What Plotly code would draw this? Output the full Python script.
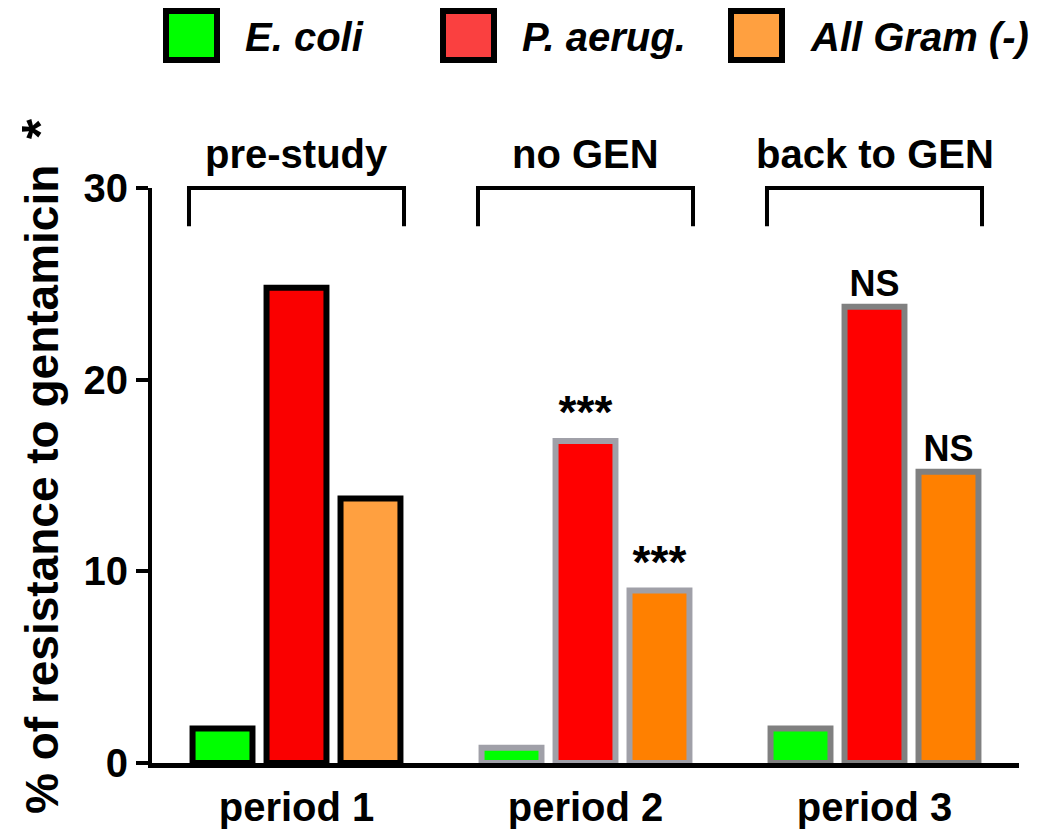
import plotly.graph_objects as go

# data
periods = ["period 1", "period 2", "period 3"]
phases = ["pre-study", "no GEN", "back to GEN"]
series = ["E. coli", "P. aerug.", "All Gram (-)"]

ecoli = [1.8, 0.8, 1.8]
paerug = [24.8, 16.8, 23.8]
all_gram = [13.8, 9.0, 15.2]

# significance labels vs period 1
sig_paerug = ["", "***", "NS"]
sig_all_gram = ["", "***", "NS"]

y_ticks = [0, 10, 20, 30]
y_title = ("% of resistance to gentamicin&nbsp;&nbsp;"
           "<span style='font-size:52px'>*</span>")

# styles
FONT = "Arial, Liberation Sans, Helvetica, sans-serif"
fills = {
    "E. coli": ["#00FF00", "#00FF00", "#00FF00"],
    "P. aerug.": ["#FA0000", "#FF0000", "#FF0000"],
    "All Gram (-)": ["#FFA040", "#FF8000", "#FF8000"],
}
legend_fill = {"E. coli": "#00FF00", "P. aerug.": "#FA4040", "All Gram (-)": "#FFA040"}
borders = ["#000000", "#A0A0A8", "#808080"]

values = {"E. coli": ecoli, "P. aerug.": paerug, "All Gram (-)": all_gram}
labels = {"E. coli": ["", "", ""], "P. aerug.": sig_paerug, "All Gram (-)": sig_all_gram}

# the html page adds an 8px body margin, so the figure is drawn 8px smaller
OFF = 8
W, H = 1048 - OFF, 834 - OFF
L, R, T, B = 152 - OFF, 29, 188 - OFF, 71
PW, PH = W - L - R, H - T - B


def px_x(p):
    return (p - OFF - L) / PW


def px_y(p):
    return (H - B - (p - OFF)) / PH


fig = go.Figure()
for name in series:
    fig.add_trace(go.Bar(
        x=periods,
        y=values[name],
        name=name,
        marker=dict(color=fills[name], line=dict(color=borders, width=6)),
        text=labels[name],
        textposition="outside",
        cliponaxis=False,
        constraintext="none",
        textfont=dict(family=FONT, weight="bold", color="black",
                      size=[46 if t == "***" else 36 for t in labels[name]]),
        showlegend=False,
    ))

shapes = []
annotations = []

# brackets over each period
bargap = 0.232
half = (1 - bargap) / 2 - 0.012
for i, ph in enumerate(phases):
    x0, x1 = i - half, i + half
    shapes.append(dict(type="path", xref="x", yref="paper",
                       path=f"M {x0},{28/30} L {x0},1 L {x1},1 L {x1},{28/30}",
                       line=dict(color="black", width=4)))
    annotations.append(dict(x=i, y=px_y(154), xref="x", yref="paper", text=ph,
                            showarrow=False, yanchor="middle",
                            font=dict(family=FONT, size=40, weight="bold", color="black")))

# legend drawn by hand (large boxes like the original)
box_left = [163, 440, 728]
for name, bx in zip(series, box_left):
    shapes.append(dict(type="rect", xref="paper", yref="paper",
                       x0=px_x(bx + 3), x1=px_x(bx + 54), y0=px_y(60), y1=px_y(11),
                       fillcolor=legend_fill[name], line=dict(color="black", width=6)))
    annotations.append(dict(x=px_x(bx + 80), y=px_y(37), xref="paper", yref="paper",
                            text=name, showarrow=False, xanchor="left", yanchor="middle",
                            font=dict(family=FONT, size=40, weight="bold",
                                      style="italic", color="black")))

# y title
annotations.append(dict(x=px_x(40), y=px_y(466), xref="paper", yref="paper",
                        text=y_title, textangle=-90, showarrow=False,
                        xanchor="center", yanchor="middle",
                        font=dict(family=FONT, size=46, weight="bold", color="black")))

fig.update_layout(
    width=W, height=H, autosize=False,
    margin=dict(l=L, r=R, t=T, b=B),
    plot_bgcolor="white", paper_bgcolor="white",
    barmode="group", bargap=bargap, bargroupgap=0.19,
    shapes=shapes, annotations=annotations,
    showlegend=False,
)
fig.update_xaxes(
    automargin=False,
    showline=True, linecolor="black", linewidth=5, ticks="",
    showgrid=False, zeroline=False,
    tickfont=dict(family=FONT, size=40, weight="bold", color="black"),
    ticklabelstandoff=5,
)
fig.update_yaxes(
    automargin=False,
    range=[0, 30], tickvals=y_ticks, showline=True, linecolor="black", linewidth=4,
    ticks="outside", ticklen=12, tickwidth=4, tickcolor="black",
    showgrid=False, zeroline=False,
    tickfont=dict(family=FONT, size=40, weight="bold", color="black"),
)

fig.write_html("out.html")
